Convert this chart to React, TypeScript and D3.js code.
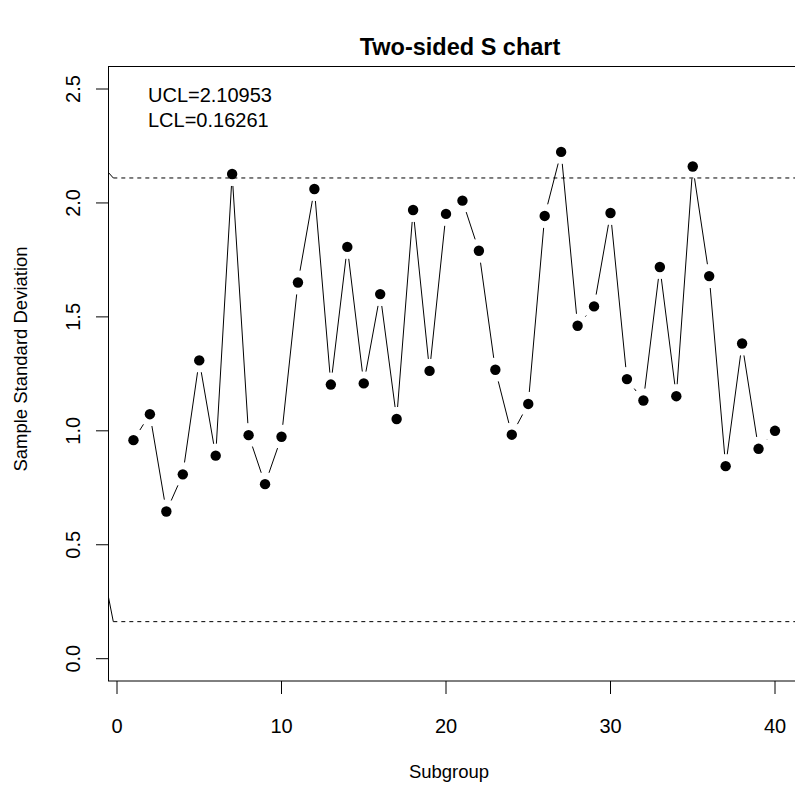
import React from "react";
import * as d3 from "d3";

const subgroups = d3.range(1, 41);
const sdValues = [
  0.959, 1.073, 0.646, 0.809, 1.309, 0.891, 2.127, 0.981, 0.766, 0.974,
  1.651, 2.061, 1.203, 1.807, 1.208, 1.600, 1.052, 1.969, 1.263, 1.952,
  2.010, 1.790, 1.268, 0.983, 1.118, 1.943, 2.224, 1.461, 1.546, 1.956,
  1.227, 1.133, 1.719, 1.152, 2.160, 1.679, 0.845, 1.383, 0.921, 1.000,
];
const UCL = 2.10953;
const LCL = 0.16261;
const limitStartX = [-0.6, -0.225];
const uclStart = 2.14;
const lclStart = 0.30;
const xTicks = [0, 10, 20, 30, 40];
const yTicks = [0, 0.5, 1.0, 1.5, 2.0, 2.5];
const title = "Two-sided S chart";
const xLabel = "Subgroup";
const yLabel = "Sample Standard Deviation";

const W = 795;
const H = 787;
const FONT = "Liberation Sans, Arial, Helvetica, sans-serif";

export default function App() {
  const x = d3.scaleLinear().domain([0, 40]).range([117, 775]);
  const y = d3.scaleLinear().domain([0, 2.5]).range([658.7, 89]);
  const box = { left: 108.5, top: 66.5, right: 802, bottom: 681 };

  const gap = 12;
  const segs: { x1: number; y1: number; x2: number; y2: number }[] = [];
  for (let i = 0; i < sdValues.length - 1; i++) {
    const ax = x(subgroups[i]), ay = y(sdValues[i]);
    const bx = x(subgroups[i + 1]), by = y(sdValues[i + 1]);
    const dx = bx - ax, dy = by - ay;
    const len = Math.hypot(dx, dy);
    if (len <= 2 * gap) continue;
    const ux = dx / len, uy = dy / len;
    segs.push({ x1: ax + ux * gap, y1: ay + uy * gap, x2: bx - ux * gap, y2: by - uy * gap });
  }

  const fmt = d3.format(".1f");

  return (
    <svg width={W} height={H} style={{ display: "block", position: "absolute", left: 0, top: 0 }} fontFamily={FONT}>
      <defs>
        <clipPath id="plotclip">
          <rect x={box.left} y={box.top} width={box.right - box.left} height={box.bottom - box.top} />
        </clipPath>
      </defs>
      <rect x={0} y={0} width={W} height={H} fill="white" />
      <text x={460} y={55} textAnchor="middle" fontSize={23.5} fontWeight="bold">
        {title}
      </text>
      <g clipPath="url(#plotclip)">
        <line x1={x(limitStartX[0])} y1={y(uclStart)} x2={x(limitStartX[1])} y2={y(UCL)} stroke="black" strokeWidth={1} />
        <line x1={x(limitStartX[0])} y1={y(lclStart)} x2={x(limitStartX[1])} y2={y(LCL)} stroke="black" strokeWidth={1} />
        <line x1={x(limitStartX[1])} y1={y(UCL)} x2={box.right} y2={y(UCL)} stroke="black" strokeWidth={1} strokeDasharray="4,4" />
        <line x1={x(limitStartX[1])} y1={y(LCL)} x2={box.right} y2={y(LCL)} stroke="black" strokeWidth={1} strokeDasharray="4,4" />
        {segs.map((s, i) => (
          <line key={i} x1={s.x1} y1={s.y1} x2={s.x2} y2={s.y2} stroke="black" strokeWidth={1} />
        ))}
        {sdValues.map((v, i) => (
          <circle key={i} cx={x(subgroups[i])} cy={y(v)} r={5.2} fill="black" />
        ))}
      </g>
      <rect x={box.left} y={box.top} width={box.right - box.left} height={box.bottom - box.top} fill="none" stroke="black" strokeWidth={1} />
      <text x={148} y={102} fontSize={20}>{`UCL=${UCL}`}</text>
      <text x={148} y={127} fontSize={20}>{`LCL=${LCL}`}</text>
      {xTicks.map((t) => (
        <g key={t}>
          <line x1={x(t)} x2={x(t)} y1={box.bottom} y2={box.bottom + 13} stroke="black" />
          <text x={x(t)} y={733} textAnchor="middle" fontSize={20}>{t}</text>
        </g>
      ))}
      {yTicks.map((t) => (
        <g key={t}>
          <line x1={box.left - 12.5} x2={box.left} y1={y(t)} y2={y(t)} stroke="black" />
          <text transform={`translate(80,${y(t)}) rotate(-90)`} textAnchor="middle" fontSize={20}>{fmt(t)}</text>
        </g>
      ))}
      <text x={449} y={778} textAnchor="middle" fontSize={18.5}>{xLabel}</text>
      <text transform={`translate(27,359) rotate(-90)`} textAnchor="middle" fontSize={18.5}>{yLabel}</text>
    </svg>
  );
}
